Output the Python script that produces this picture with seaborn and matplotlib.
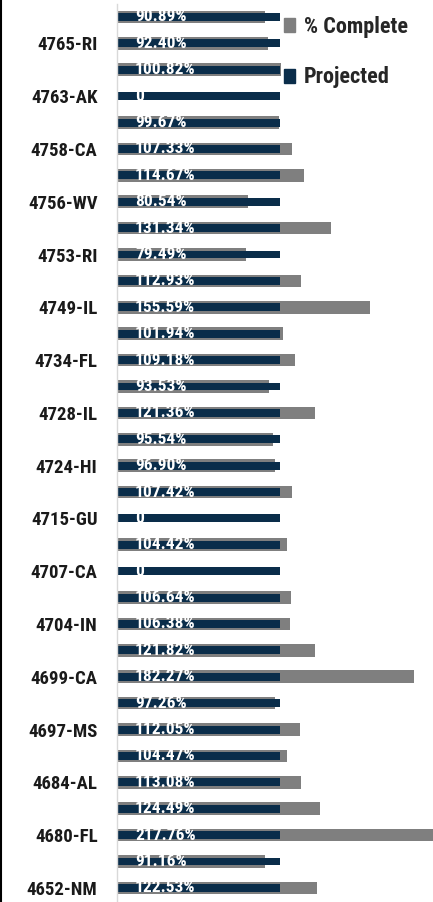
import pandas as pd
import matplotlib.pyplot as plt
import seaborn as sns
from matplotlib.lines import Line2D
from matplotlib.patches import Patch
from matplotlib import font_manager

# data, top to bottom (only every second category label is shown on the chart)
tick_labels = ['', '4765-RI', '', '4763-AK', '', '4758-CA', '', '4756-WV', '', '4753-RI',
               '', '4749-IL', '', '4734-FL', '', '4728-IL', '', '4724-HI', '', '4715-GU',
               '', '4707-CA', '', '4704-IN', '', '4699-CA', '', '4697-MS', '', '4684-AL',
               '', '4680-FL', '', '4652-NM']
pct_complete = [90.89, 92.40, 100.82, 0, 99.67, 107.33, 114.67, 80.54, 131.34, 79.49,
                112.93, 155.59, 101.94, 109.18, 93.53, 121.36, 95.54, 96.90, 107.42, 0,
                104.42, 0, 106.64, 106.38, 121.82, 182.27, 97.26, 112.05, 104.47, 113.08,
                124.49, 217.76, 91.16, 122.53]
projected = [100] * 34

rows = [f'r{i}' for i in range(len(pct_complete))]
df = pd.DataFrame({'row': rows, 'complete': pct_complete, 'projected': projected})

grey = '#7f7f7f'
navy = '#0a2d4a'
names = {f.name for f in font_manager.fontManager.ttflist}
narrow = [n for n in ['Liberation Sans Narrow', 'Roboto Condensed', 'DejaVu Sans'] if n in names]

sns.set_style('white')
plt.rcParams['font.family'] = narrow
plt.rcParams['font.stretch'] = 'condensed'

fig = plt.figure(figsize=(4.33, 9.02), dpi=100)
ax = fig.add_axes([117 / 433, 0.001, 1 - 117 / 433, 0.9948])

sns.barplot(data=df, x='complete', y='row', order=rows, orient='h', color=grey,
            width=0.48, saturation=1, linewidth=0, ax=ax)
sns.barplot(data=df, x='projected', y='row', order=rows, orient='h', color=navy,
            width=0.30, saturation=1, linewidth=0, ax=ax)

# value labels at the base of each bar
for i, v in enumerate(pct_complete):
    txt = '0' if v == 0 else f'{v:.2f}%'
    ax.annotate(txt, xy=(0, i), xytext=(13, 0), textcoords='offset points',
                ha='left', va='center', color='white', fontsize=12.5,
                fontweight='bold')

ax.set_xlim(0, 194)
ax.set_ylim(len(rows) - 0.5, -0.5)
ax.set_xlabel('')
ax.set_ylabel('')
ax.set_xticks([])
ax.set_yticks(range(len(rows)))
ax.set_yticklabels(tick_labels, fontsize=13.5, color='#1a1a1a', fontweight='bold')
ax.tick_params(axis='y', length=0, pad=14)
for s in ['top', 'right', 'bottom']:
    ax.spines[s].set_visible(False)
ax.spines['left'].set_color('#d9d9d9')
ax.spines['left'].set_linewidth(1)

handles = [Patch(color=grey, label='% Complete'), Patch(color=navy, label='Projected')]
leg = fig.legend(handles=handles, loc='upper left', bbox_to_anchor=(268 / 433, 1.0),
                 frameon=False, fontsize=16, handlelength=0.5, handleheight=0.6,
                 handletextpad=0.4, labelspacing=1.3, borderaxespad=0.3)
for t in leg.get_texts():
    t.set_fontweight('bold')

# black frame line along the left edge
fig.add_artist(Line2D([0.002, 0.002], [0, 1], transform=fig.transFigure,
                      color='black', linewidth=1.5))

fig.savefig('out.png', dpi=100)
